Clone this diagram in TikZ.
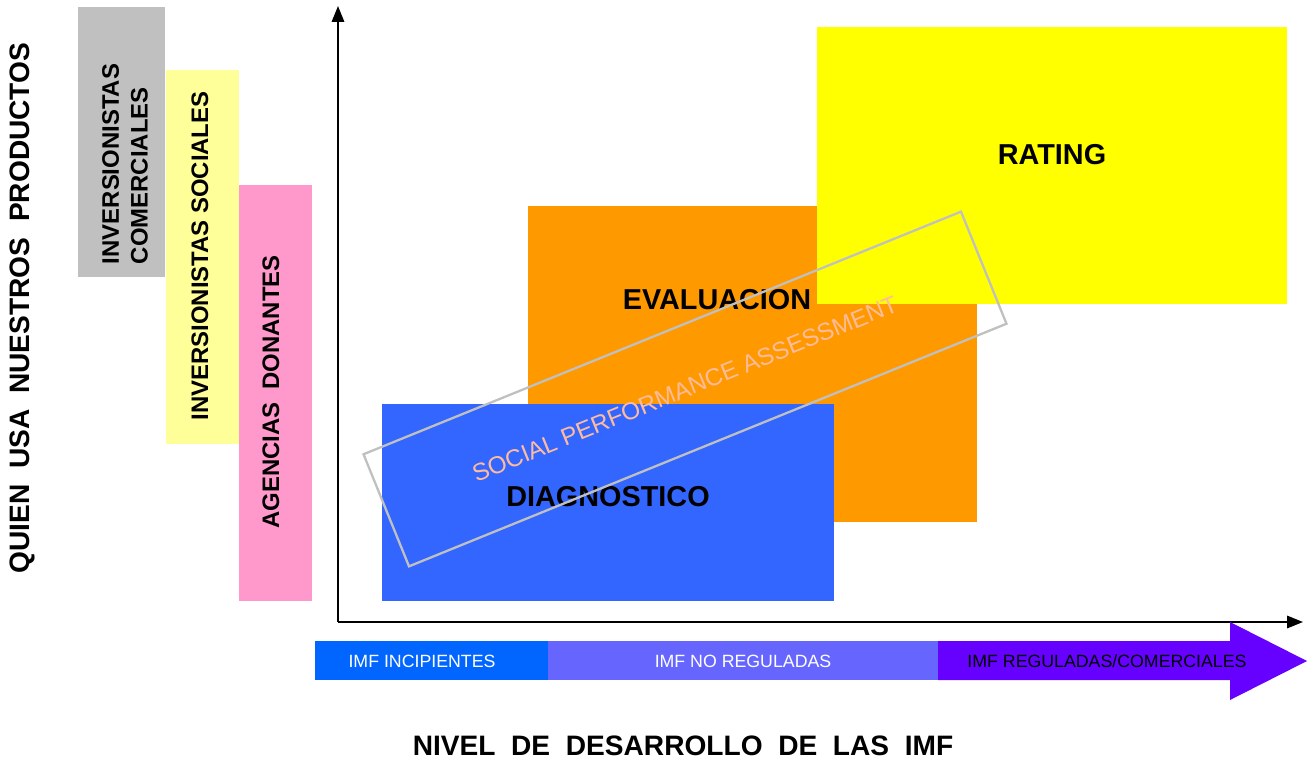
\documentclass[tikz,border=0pt]{standalone}
\usepackage{fontspec}
\setmainfont{Liberation Sans}
\usetikzlibrary{arrows.meta}
\definecolor{comgray}{HTML}{C0C0C0}
\definecolor{socyellow}{HTML}{FFFF99}
\definecolor{donpink}{HTML}{FF99CC}
\definecolor{diagblue}{HTML}{3366FF}
\definecolor{evalorange}{HTML}{FF9900}
\definecolor{ratyellow}{HTML}{FFFF00}
\definecolor{bandone}{HTML}{0066FF}
\definecolor{bandtwo}{HTML}{6666FF}
\definecolor{bandthree}{HTML}{6600FF}
\definecolor{spatext}{HTML}{FFBC9C}
\begin{document}
\begin{tikzpicture}[x=0.02cm,y=-0.02cm]
\tikzstyle{every node}+=[inner sep=0pt]
\tikzstyle{biglabel}=[font=\fontsize{16.4}{18}\selectfont\bfseries]
\tikzstyle{titlelabel}=[font=\fontsize{16}{18}\selectfont\bfseries]
\tikzstyle{sidelabel}=[rotate=90, align=left, font=\fontsize{13.6}{16.4}\selectfont\bfseries]
\tikzstyle{bandlabel}=[font=\fontsize{10.1}{12}\selectfont]
\tikzstyle{axis}=[line width=1.1pt, -{Triangle[length=9pt,width=7pt]}]
\tikzstyle{spabox}=[draw=comgray, line width=1.3pt, rotate=22.1, minimum width=12.9cm, minimum height=2.42cm, text=spatext, font=\fontsize{13.8}{15}\selectfont]
\useasboundingbox (0,0) rectangle (1314,763);
\fill [comgray] (78,7) rectangle (165,277);
\fill [socyellow] (166,70) rectangle (239,444);
\fill [donpink] (239,185) rectangle (312,601);
\node [titlelabel, rotate=90] (quien) at (22,308) {QUIEN~~USA~~NUESTROS~~PRODUCTOS};
\node [sidelabel] (comercial) at (125,164) {INVERSIONISTAS\\COMERCIALES};
\node [sidelabel] (social) at (200,256) {INVERSIONISTAS SOCIALES};
\node [sidelabel] (donante) at (271,392) {AGENCIAS~~DONANTES};
\coordinate (origin) at (338,622);
\coordinate (ytip) at (338,6);
\coordinate (xtip) at (1303,622);
\draw [axis] (origin) -- (ytip);
\draw [axis] (origin) -- (xtip);
\fill [evalorange] (528,206) rectangle (977,522);
\fill [ratyellow] (817,27) rectangle (1287,304);
\fill [diagblue] (382,404) rectangle (834,601);
\node [biglabel] (rating) at (1052,155) {RATING};
\node [biglabel] (evaluacion) at (717,300) {EVALUACION};
\node [biglabel] (diagnostico) at (608,497) {DIAGNOSTICO};
\node [spabox] (spa) at (685,389) {SOCIAL PERFORMANCE ASSESSMENT};
\fill [bandone] (315,641) rectangle (548,680);
\fill [bandtwo] (548,641) rectangle (938,680);
\fill [bandthree] (938,641) -- (1230,641) -- (1230,622) -- (1307,661) -- (1230,700) -- (1230,680) -- (938,680) -- cycle;
\node [bandlabel, text=white] (incipientes) at (422,661) {IMF INCIPIENTES};
\node [bandlabel, text=white] (noreguladas) at (743,661) {IMF NO REGULADAS};
\node [bandlabel] (reguladas) at (1107,661) {IMF REGULADAS/COMERCIALES};
\node [titlelabel] (nivel) at (683,746) {NIVEL~~DE~~DESARROLLO~~DE~~LAS~~IMF};
\end{tikzpicture}
\end{document}
